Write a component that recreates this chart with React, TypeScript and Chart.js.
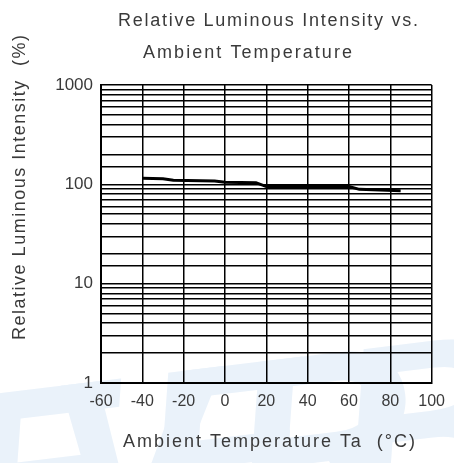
import React, { useEffect, useRef } from "react";
import { Chart, registerables } from "chart.js";

Chart.register(...registerables);

const temperatures = [-40, -30, -25, -5, 0, 15, 20, 60, 65, 85];
const intensities = [115, 114, 110, 108, 105, 104, 95, 95, 89, 86];
const xTicks = [-60, -40, -20, 0, 20, 40, 60, 80, 100];
const yLabels = [1, 10, 100, 1000];

const titleLines = ["Relative Luminous Intensity vs.", "Ambient Temperature"];
const xTitle = "Ambient Temperature Ta  (°C)";
const yTitle = "Relative Luminous Intensity  (%)";
const watermark = "EVERB";

const FONT = "'Liberation Sans', Arial, sans-serif";
const TEXT = "#3a3a3a";

function fitText(ctx: CanvasRenderingContext2D, text: string, x: number, y: number, width: number) {
  (ctx as any).letterSpacing = "0px";
  const w = ctx.measureText(text).width;
  const sp = (width - w) / Math.max(1, text.length - 1);
  (ctx as any).letterSpacing = sp.toFixed(2) + "px";
  ctx.fillText(text, x, y);
  (ctx as any).letterSpacing = "0px";
}

const decorPlugin = {
  id: "decor",
  beforeDraw(chart: any) {
    const ctx = chart.ctx as CanvasRenderingContext2D;
    ctx.save();
    ctx.fillStyle = "#ffffff";
    ctx.fillRect(0, 0, chart.width, chart.height);
    ctx.fillStyle = "#eaf2fa";
    ctx.font = `italic bold 250px ${FONT}`;
    ctx.textBaseline = "alphabetic";
    ctx.textAlign = "left";
    ctx.translate(-30, 570);
    ctx.rotate(-0.12);
    fitText(ctx, watermark, 0, 0, 560);
    ctx.restore();
  },
  afterDraw(chart: any) {
    const ctx = chart.ctx as CanvasRenderingContext2D;
    ctx.save();
    ctx.fillStyle = TEXT;
    ctx.textBaseline = "middle";
    ctx.textAlign = "left";
    ctx.font = `18px ${FONT}`;
    fitText(ctx, titleLines[0], 118, 21, 300);
    fitText(ctx, titleLines[1], 143, 53, 209);
    fitText(ctx, xTitle, 123, 442, 292);
    ctx.translate(20, 340);
    ctx.rotate(-Math.PI / 2);
    fitText(ctx, yTitle, 0, 0, 305);
    ctx.restore();
  },
};

export default function App() {
  const ref = useRef<HTMLCanvasElement | null>(null);
  useEffect(() => {
    if (!ref.current) return;
    const chart = new Chart(ref.current, {
      type: "line",
      data: {
        datasets: [
          {
            data: temperatures.map((t, i) => ({ x: t, y: intensities[i] })),
            borderColor: "#000000",
            borderWidth: 3,
            pointRadius: 0,
            tension: 0,
            fill: false,
          },
        ],
      },
      options: {
        animation: false,
        responsive: true,
        maintainAspectRatio: false,
        layout: { padding: { top: 85, right: 21, left: 0, bottom: 0 } },
        plugins: { legend: { display: false }, tooltip: { enabled: false }, title: { display: false } },
        scales: {
          x: {
            type: "linear",
            min: xTicks[0],
            max: xTicks[xTicks.length - 1],
            afterFit: (s: any) => {
              s.height = 80;
            },
            afterBuildTicks: (s: any) => {
              s.ticks = xTicks.map((v) => ({ value: v }));
            },
            ticks: {
              autoSkip: false,
              maxRotation: 0,
              padding: 9,
              color: TEXT,
              font: { family: FONT, size: 16 },
            },
            grid: { color: "#000000", lineWidth: 1.5, drawTicks: false },
            border: { color: "#000000", width: 2 },
          },
          y: {
            type: "logarithmic",
            min: yLabels[0],
            max: yLabels[yLabels.length - 1],
            afterFit: (s: any) => {
              s.width = 101;
            },
            ticks: {
              autoSkip: false,
              padding: 8,
              color: TEXT,
              font: { family: FONT, size: 17 },
              callback: (v: any) => (yLabels.includes(Number(v)) ? String(v) : ""),
            },
            grid: { color: "#000000", lineWidth: 1.5, drawTicks: false },
            border: { color: "#000000", width: 2 },
          },
        },
      },
      plugins: [decorPlugin],
    });
    return () => chart.destroy();
  }, []);
  return (
    <div style={{ position: "fixed", left: 0, top: 0, width: 454, height: 463, background: "#fff" }}>
      <canvas ref={ref} />
    </div>
  );
}
